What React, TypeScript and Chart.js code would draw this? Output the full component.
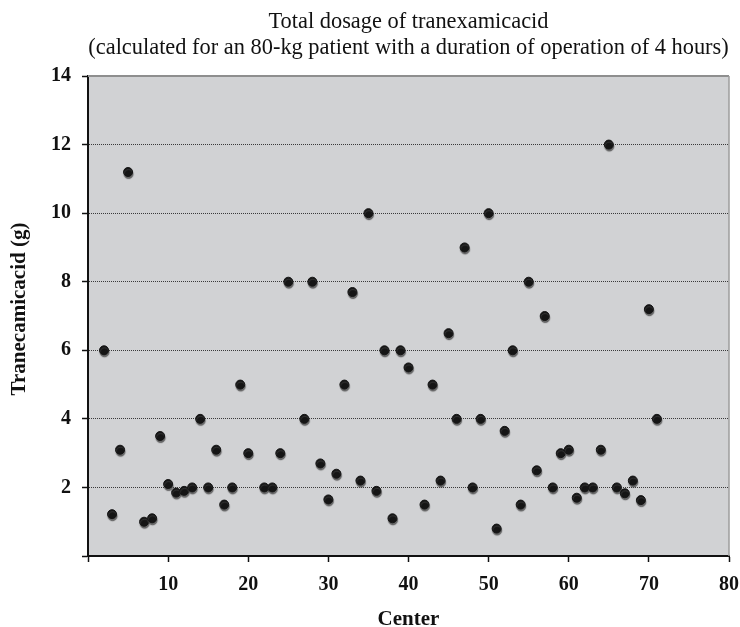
import { useEffect, useRef } from "react";
import { Chart, registerables } from "chart.js";

Chart.register(...registerables);

// Study centers and the total tranexamic acid dose reported by each (g)
const centers = [
  2, 3, 4, 5, 7, 8, 9, 10, 11, 12, 13, 14, 15, 16, 17, 18, 19, 20, 22, 23, 24, 25, 27, 28, 29, 30,
  31, 32, 33, 34, 35, 36, 37, 38, 39, 40, 42, 43, 44, 45, 46, 47, 48, 49, 50, 51, 52, 53, 54, 55,
  56, 57, 58, 59, 60, 61, 62, 63, 64, 65, 66, 67, 68, 69, 70, 71,
];
const dosages = [
  6, 1.22, 3.1, 11.2, 1, 1.1, 3.5, 2.1, 1.85, 1.9, 2, 4, 2, 3.1, 1.5, 2, 5, 3, 2, 2, 3, 8, 4, 8, 2.7,
  1.65, 2.4, 5, 7.7, 2.2, 10, 1.9, 6, 1.1, 6, 5.5, 1.5, 5, 2.2, 6.5, 4, 9, 2, 4, 10, 0.8, 3.65, 6,
  1.5, 8, 2.5, 7, 2, 3, 3.1, 1.7, 2, 2, 3.1, 12, 2, 1.83, 2.2, 1.63, 7.2, 4,
];

const titleLines = [
  "Total dosage of tranexamicacid",
  "(calculated for an 80-kg patient with a duration of operation of 4 hours)",
];
const xAxisTitle = "Center";
const yAxisTitle = "Tranecamicacid (g)";

const X_MIN = 0;
const X_MAX = 80;
const X_STEP = 10;
const Y_MIN = 0;
const Y_MAX = 14;
const Y_STEP = 2;

const SERIF = "'Liberation Serif', 'Times New Roman', serif";

// Gray plotting panel with a light top/right frame
const plotFrame = {
  id: "plotFrame",
  beforeDraw(chart: any) {
    const { ctx, chartArea } = chart;
    const { left, top, right, bottom } = chartArea;
    ctx.save();
    ctx.fillStyle = "#d1d2d4";
    ctx.fillRect(left, top, right - left, bottom - top);
    ctx.restore();
  },
  beforeDatasetsDraw(chart: any) {
    const { ctx, chartArea } = chart;
    const { left, top, right, bottom } = chartArea;
    ctx.save();
    ctx.strokeStyle = "#8e8e8e";
    ctx.lineWidth = 2;
    ctx.beginPath();
    ctx.moveTo(left, top);
    ctx.lineTo(right, top);
    ctx.stroke();
    ctx.strokeStyle = "#9c9c9c";
    ctx.lineWidth = 1.5;
    ctx.beginPath();
    ctx.moveTo(right, top);
    ctx.lineTo(right, bottom);
    ctx.stroke();
    ctx.restore();
  },
};

// Soft drop shadow under the markers
const markerShadow = {
  id: "markerShadow",
  beforeDatasetDraw(chart: any) {
    const ctx = chart.ctx;
    ctx.save();
    ctx.shadowColor = "rgba(70,70,70,0.75)";
    ctx.shadowOffsetX = 0.5;
    ctx.shadowOffsetY = 2;
    ctx.shadowBlur = 1;
  },
  afterDatasetDraw(chart: any) {
    chart.ctx.restore();
  },
};

// Two-line heading over the panel and the rotated value-axis caption
const captions = {
  id: "captions",
  afterDraw(chart: any) {
    const { ctx, chartArea } = chart;
    const cx = (chartArea.left + chartArea.right) / 2;
    ctx.save();
    ctx.fillStyle = "#111";
    ctx.font = `22.4px ${SERIF}`;
    ctx.textAlign = "center";
    ctx.textBaseline = "alphabetic";
    ctx.fillText(titleLines[0], cx, 28);
    ctx.fillText(titleLines[1], cx, 54);
    ctx.restore();

    ctx.save();
    ctx.fillStyle = "#111";
    ctx.font = `bold 21px ${SERIF}`;
    ctx.textAlign = "center";
    ctx.textBaseline = "middle";
    ctx.translate(20, (chartArea.top + chartArea.bottom) / 2 - 7);
    ctx.rotate(-Math.PI / 2);
    ctx.fillText(yAxisTitle, 0, 0);
    ctx.restore();
  },
};

export default function App() {
  const canvasRef = useRef<HTMLCanvasElement | null>(null);

  useEffect(() => {
    const canvas = canvasRef.current;
    if (!canvas) return;
    const points = centers.map((c, i) => ({ x: c, y: dosages[i] }));

    const chart = new Chart(canvas, {
      type: "scatter",
      data: {
        datasets: [
          {
            data: points,
            backgroundColor: "#151515",
            borderColor: "#151515",
            borderWidth: 1,
            pointRadius: 4.5,
            pointHoverRadius: 4.5,
          },
        ],
      },
      options: {
        responsive: false,
        animation: false,
        events: [],
        layout: { padding: { top: 76, right: 11, left: 0, bottom: 0 } },
        plugins: {
          legend: { display: false },
          tooltip: { enabled: false },
          title: { display: false },
        },
        scales: {
          x: {
            type: "linear",
            min: X_MIN,
            max: X_MAX,
            afterFit(scale: any) {
              scale.height = 71;
              scale.paddingLeft = 0;
              scale.paddingRight = 0;
            },
            ticks: {
              stepSize: X_STEP,
              padding: 11,
              color: "#111",
              font: { family: SERIF, size: 20, weight: "bold" },
              maxRotation: 0,
              callback: (v: any) => (Number(v) === 0 ? "" : String(v)),
            },
            grid: {
              drawOnChartArea: false,
              drawTicks: true,
              tickLength: 6,
              tickColor: "#111",
              tickWidth: 1.5,
            },
            border: { display: true, color: "#111", width: 2 },
            title: {
              display: true,
              text: xAxisTitle,
              color: "#111",
              font: { family: SERIF, size: 21, weight: "bold", lineHeight: 1 },
              padding: { top: 0, bottom: -3 },
            },
          },
          y: {
            type: "linear",
            min: Y_MIN,
            max: Y_MAX,
            afterFit(scale: any) {
              scale.width = 88;
            },
            ticks: {
              stepSize: Y_STEP,
              padding: 11,
              color: "#111",
              font: { family: SERIF, size: 20, weight: "bold" },
              callback: (v: any) => (Number(v) === 0 ? "" : String(v)),
            },
            grid: {
              color: (c: any) => {
                const v = c.tick ? c.tick.value : null;
                return v === Y_MIN || v === Y_MAX ? "rgba(0,0,0,0)" : "#3a3a3a";
              },
              lineWidth: 1,
              drawTicks: true,
              tickLength: 6,
              tickColor: "#111",
              tickWidth: 1.5,
            },
            border: { display: true, color: "#111", width: 2, dash: [1, 1] },
          },
        },
      },
      plugins: [plotFrame, markerShadow, captions],
    });

    return () => chart.destroy();
  }, []);

  return (
    <div style={{ position: "absolute", left: 0, top: 0, width: 740, height: 627, background: "#fff" }}>
      <canvas ref={canvasRef} width={740} height={627} style={{ display: "block" }} />
    </div>
  );
}
